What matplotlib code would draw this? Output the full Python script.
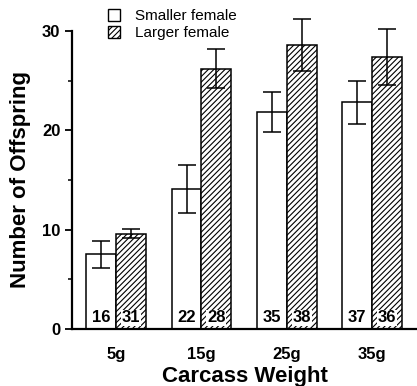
import matplotlib.pyplot as plt
import numpy as np
from matplotlib.patches import Patch

plt.rcParams["font.family"] = ["Liberation Sans", "DejaVu Sans"]
plt.rcParams["hatch.linewidth"] = 0.8

# ==========================================
# DATA
# ==========================================

weights = ["5g", "15g", "25g", "35g"]

smaller_mean = [7.5, 14.1, 21.8, 22.8]
smaller_err = [1.35, 2.4, 2.0, 2.2]
smaller_n = [16, 22, 35, 37]

larger_mean = [9.6, 26.2, 28.6, 27.4]
larger_err = [0.5, 2.0, 2.6, 2.8]
larger_n = [31, 28, 38, 36]

# ==========================================
# PLOT
# ==========================================

fig = plt.figure(figsize=(4.17, 3.86), dpi=100)
ax = fig.add_axes([0.173, 0.148, 0.827, 0.772])

x = np.arange(len(weights))
w = 0.35

ekw = dict(elinewidth=1.1, capthick=1.1, clip_on=False)
ax.bar(x - w / 2, smaller_mean, w, color="white", edgecolor="black", linewidth=1.1,
       yerr=smaller_err, capsize=6.5, error_kw=ekw)
ax.bar(x + w / 2, larger_mean, w, color="white", edgecolor="black", linewidth=1.1,
       hatch="//////", yerr=larger_err, capsize=6.5, error_kw=ekw)

for i in range(len(weights)):
    ax.text(x[i] - w / 2, 1.1, str(smaller_n[i]), ha="center", va="center",
            fontsize=12, fontweight="bold")
    ax.text(x[i] + w / 2, 1.1, str(larger_n[i]), ha="center", va="center",
            fontsize=12, fontweight="bold",
            bbox=dict(facecolor="white", edgecolor="none", pad=0.5))

ax.set_xlim(-0.515, 3.525)
ax.set_ylim(0, 30)
ax.set_yticks([0, 10, 20, 30])
ax.set_yticks([5, 15, 25], minor=True)
ax.set_xticks(x)
ax.set_xticklabels(weights)

ax.spines["top"].set_visible(False)
ax.spines["right"].set_visible(False)
ax.spines["left"].set_linewidth(1.6)
ax.spines["bottom"].set_linewidth(1.6)
ax.tick_params(axis="y", which="major", direction="out", length=5, width=1.3,
               labelsize=12)
ax.tick_params(axis="y", which="minor", direction="out", length=3, width=1.1)
ax.tick_params(axis="x", length=0, pad=13, labelsize=12)
for lab in ax.get_xticklabels() + ax.get_yticklabels():
    lab.set_fontweight("bold")

ax.set_xlabel("Carcass Weight", fontsize=16, fontweight="bold", labelpad=3)
ax.set_ylabel("Number of Offspring", fontsize=16, fontweight="bold", labelpad=8)

handles = [
    Patch(facecolor="white", edgecolor="black", label="Smaller female"),
    Patch(facecolor="white", edgecolor="black", hatch="//////", label="Larger female"),
]
fig.legend(handles=handles, loc="upper left", bbox_to_anchor=(0.225, 1.012),
           frameon=False, fontsize=11, handlelength=0.8, handleheight=0.8,
           handletextpad=1.0, labelspacing=0.2)

plt.savefig("out.png", dpi=100)
